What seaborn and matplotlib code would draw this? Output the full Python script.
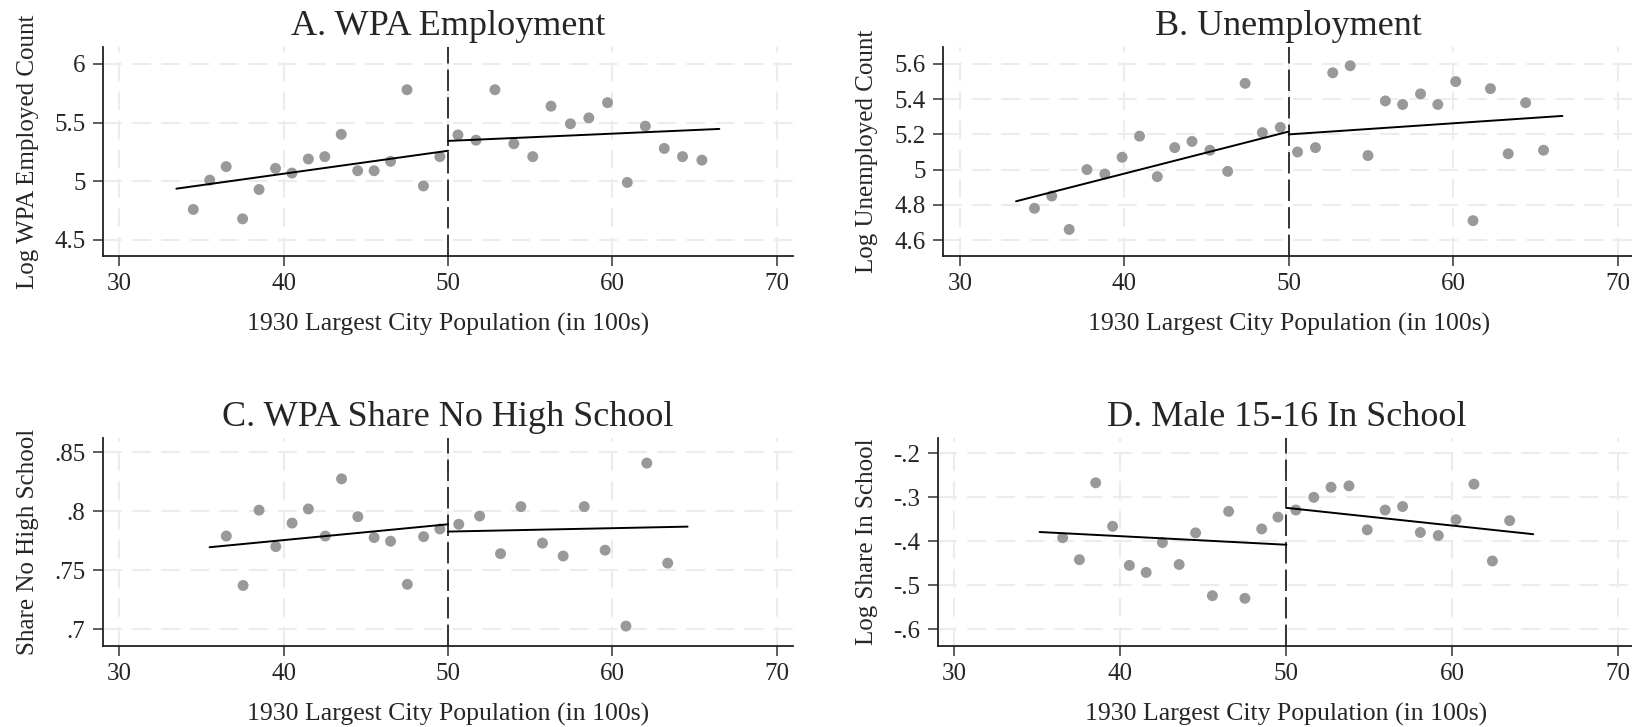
import matplotlib
matplotlib.use("Agg")
import matplotlib.pyplot as plt
import numpy as np
import pandas as pd
import seaborn as sns

# ---- data (binned means + fitted lines) ----
# A. WPA Employment
a_x = [34.5, 35.5, 36.5, 37.5, 38.5, 39.5, 40.5, 41.5, 42.5, 43.5, 44.5, 45.5, 46.5, 47.5, 48.5, 49.5,
       50.6, 51.7, 52.85, 54.0, 55.15, 56.26, 57.44, 58.56, 59.7, 60.9, 62.0, 63.15, 64.26, 65.44]
a_y = [4.76, 5.01, 5.125, 4.68, 4.93, 5.11, 5.07, 5.19, 5.21, 5.40, 5.09, 5.09, 5.17, 5.78, 4.96, 5.21,
       5.395, 5.35, 5.78, 5.32, 5.21, 5.64, 5.49, 5.54, 5.67, 4.99, 5.47, 5.28, 5.21, 5.18]
a_fit_left = ([33.47, 50.0], [4.937, 5.26])
a_fit_right = ([50.0, 66.5], [5.344, 5.446])

# B. Unemployment
b_x = [34.54, 35.59, 36.65, 37.73, 38.82, 39.87, 40.93, 42.01, 43.07, 44.12, 45.21, 46.29, 47.35, 48.40, 49.49,
       50.54, 51.63, 52.68, 53.74, 54.82, 55.88, 56.93, 58.02, 59.07, 60.16, 61.21, 62.27, 63.35, 64.41, 65.50]
b_y = [4.78, 4.85, 4.66, 5.00, 4.975, 5.07, 5.19, 4.96, 5.125, 5.16, 5.11, 4.99, 5.49, 5.21, 5.24,
       5.10, 5.125, 5.55, 5.59, 5.08, 5.39, 5.37, 5.43, 5.37, 5.50, 4.71, 5.46, 5.09, 5.38, 5.11]
b_fit_left = ([33.42, 50.0], [4.82, 5.216])
b_fit_right = ([50.0, 66.65], [5.20, 5.305])

# C. WPA Share No High School
c_x = [36.51, 37.53, 38.50, 39.52, 40.51, 41.50, 42.53, 43.52, 44.51, 45.5, 46.5, 47.52, 48.51, 49.50,
       50.65, 51.92, 53.19, 54.43, 55.74, 57.0, 58.28, 59.55, 60.82, 62.09, 63.36]
c_y = [0.779, 0.737, 0.801, 0.770, 0.790, 0.802, 0.779, 0.8276, 0.7955, 0.7777, 0.7746, 0.738, 0.7785, 0.785,
       0.789, 0.796, 0.764, 0.804, 0.773, 0.762, 0.804, 0.767, 0.7025, 0.841, 0.756]
c_fit_left = ([35.49, 50.0], [0.7695, 0.789])
c_fit_right = ([50.0, 64.57], [0.7828, 0.787])

# D. Male 15-16 In School
d_x = [36.52, 37.53, 38.51, 39.53, 40.54, 41.55, 42.53, 43.54, 44.53, 45.54, 46.52, 47.5, 48.51, 49.49,
       50.57, 51.65, 52.69, 53.77, 54.87, 55.95, 57.0, 58.07, 59.15, 60.22, 61.30, 62.41, 63.45]
d_y = [-0.392, -0.442, -0.267, -0.366, -0.455, -0.471, -0.403, -0.453, -0.381, -0.524, -0.332, -0.53, -0.372, -0.345,
       -0.329, -0.30, -0.277, -0.274, -0.374, -0.329, -0.321, -0.38, -0.387, -0.351, -0.27, -0.445, -0.353]
d_fit_left = ([35.13, 50.0], [-0.379, -0.408])
d_fit_right = ([50.0, 64.87], [-0.324, -0.384])

titles = ["A. WPA Employment", "B. Unemployment", "C. WPA Share No High School", "D. Male 15-16 In School"]
ylabels = ["Log WPA Employed Count", "Log Unemployed Count", "Share No High School", "Log Share In School"]
xlabel = "1930 Largest City Population (in 100s)"
cutoff = 50

xticks = [30, 40, 50, 60, 70]
a_ticks, a_ticklabels = [4.5, 5, 5.5, 6], ["4.5", "5", "5.5", "6"]
b_ticks, b_ticklabels = [4.6, 4.8, 5, 5.2, 5.4, 5.6], ["4.6", "4.8", "5", "5.2", "5.4", "5.6"]
c_ticks, c_ticklabels = [0.7, 0.75, 0.8, 0.85], [".7", ".75", ".8", ".85"]
d_ticks, d_ticklabels = [-0.6, -0.5, -0.4, -0.3, -0.2], ["-.6", "-.5", "-.4", "-.3", "-.2"]

sns.set_style("white")
plt.rcParams["font.family"] = ["Liberation Serif", "DejaVu Serif"]

fig = plt.figure(figsize=(16.33, 7.27), dpi=100)

# axes rectangles (figure fraction)
rects = [
    [0.0630, 0.6483, 0.4228, 0.2867],
    [0.5777, 0.6483, 0.4229, 0.2867],
    [0.0630, 0.1118, 0.4228, 0.2857],
    [0.5743, 0.1118, 0.4269, 0.2857],
]
panels = [
    (a_x, a_y, a_fit_left, a_fit_right, a_ticks, a_ticklabels, (4.366, 6.142)),
    (b_x, b_y, b_fit_left, b_fit_right, b_ticks, b_ticklabels, (4.511, 5.695)),
    (c_x, c_y, c_fit_left, c_fit_right, c_ticks, c_ticklabels, (0.6858, 0.8623)),
    (d_x, d_y, d_fit_left, d_fit_right, d_ticks, d_ticklabels, (-0.6379, -0.165)),
]
ylab_x = [-0.0925, -0.094, -0.0925, -0.0855]

for i, (px, py, fl, fr, yt, ytl, ylim) in enumerate(panels):
    ax = fig.add_axes(rects[i])
    df = pd.DataFrame({"x": px, "y": py})
    sns.scatterplot(data=df, x="x", y="y", ax=ax, color="#999999", s=62,
                    edgecolor="none", linewidth=0, zorder=3)
    sns.lineplot(x=fl[0], y=fl[1], ax=ax, color="black", lw=1.4, zorder=4)
    sns.lineplot(x=fr[0], y=fr[1], ax=ax, color="black", lw=1.4, zorder=4)
    ax.axvline(cutoff, color="black", lw=1.1, dashes=(14, 4), zorder=2)

    ax.set_xlim(29.0, 71.0)
    ax.set_ylim(*ylim)
    ax.set_xticks(xticks)
    ax.set_xticklabels([str(t) for t in xticks])
    ax.set_yticks(yt)
    ax.set_yticklabels(ytl)

    ax.grid(True, color="#ececec", lw=1.5, linestyle=(0, (9, 5)), zorder=0)
    ax.set_axisbelow(True)
    for s in ["top", "right"]:
        ax.spines[s].set_visible(False)
    for s in ["left", "bottom"]:
        ax.spines[s].set_color("#222222")
        ax.spines[s].set_linewidth(1.3)
    ax.tick_params(axis="both", direction="out", length=7, width=1.1, color="#333333",
                   labelsize=18, pad=5.5, bottom=True, left=True)

    ax.set_title(titles[i], fontsize=26, pad=9)
    ax.set_xlabel(xlabel, fontsize=18.5, labelpad=13)
    ax.set_ylabel(ylabels[i], fontsize=18)
    ax.yaxis.set_label_coords(ylab_x[i], 0.5)

fig.savefig("out.png", dpi=100, facecolor="white")
